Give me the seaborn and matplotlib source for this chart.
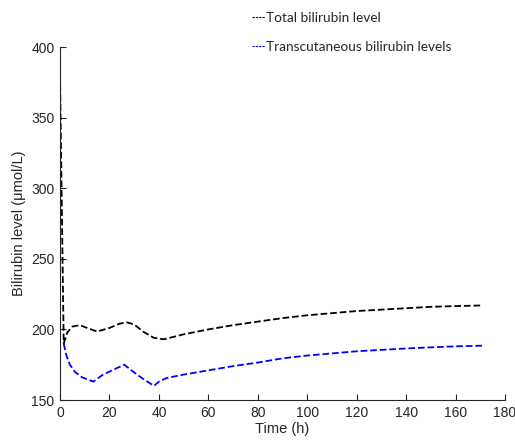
import numpy as np
import pandas as pd
import seaborn as sns
import matplotlib.pyplot as plt
from matplotlib.lines import Line2D

# total bilirubin (black) and transcutaneous (blue) readings over time
t_total = [0, 1.5, 3, 5, 8, 11, 15, 20, 24, 27, 30, 34, 38, 42, 50, 60, 70, 80,
           90, 100, 110, 120, 130, 140, 150, 160, 171]
total = [380, 190, 198, 202, 203, 201, 198.5, 201, 204, 205, 203.5, 198, 194, 193,
         196.5, 200, 203, 205.5, 208, 210, 211.5, 213, 214, 215, 216, 216.5, 217]

t_tcb = [1.5, 2.5, 4, 6, 9, 13.5, 17, 21, 26, 30, 34, 38, 40, 43, 50, 60, 70, 80,
         90, 100, 110, 120, 130, 140, 150, 160, 171]
tcb = [190, 182, 175, 170, 166, 163, 167.5, 171, 175, 169.5, 164.5, 160, 163, 165.5,
       168, 171, 174, 176.5, 179.5, 181.5, 183, 184.5, 185.5, 186.5, 187.3, 188, 188.5]

labels = ["Total bilirubin level", "Transcutaneous bilirubin levels"]

sns.set_style("white")
plt.rcParams['font.family'] = ['Liberation Sans', 'DejaVu Sans']

fig = plt.figure(figsize=(5.15, 4.41), dpi=100)
ax = fig.add_axes([60 / 515, 1 - 400 / 441, 445 / 515, 353 / 441])

sns.lineplot(x=t_total, y=total, ax=ax, color="black", linestyle="--", linewidth=1.3)
sns.lineplot(x=t_tcb, y=tcb, ax=ax, color="#0000ff", linestyle="--", linewidth=1.3)

ax.set_xlim(0, 180)
ax.set_ylim(150, 400)
ax.set_xticks(np.arange(0, 181, 20))
ax.set_yticks(np.arange(150, 401, 50))
ax.tick_params(direction="in", length=4, width=0.8, labelsize=10, colors="#262626",
               pad=4, left=True, bottom=True)
for s in ["top", "right"]:
    ax.spines[s].set_visible(False)
for s in ["left", "bottom"]:
    ax.spines[s].set_color("#262626")
    ax.spines[s].set_linewidth(0.8)
ax.set_xlabel("Time (h)", fontsize=10.5, color="#262626", labelpad=2)
ax.set_ylabel("Bilirubin level (μmol/L)", fontsize=10.5, color="#262626", labelpad=4)

handles = [Line2D([], [], color="black", linestyle=(0, (2, 1)), linewidth=0.8),
           Line2D([], [], color="#0000ff", linestyle=(0, (2, 1)), linewidth=0.8)]
fig.legend(handles, labels, loc="upper left", bbox_to_anchor=(252 / 515, 1 - 12 / 441),
           frameon=False, handlelength=0.95, handletextpad=0.1, labelspacing=1.25,
           borderpad=0, borderaxespad=0,
           prop={"family": ["Lato", "DejaVu Sans"], "size": 9.8})

fig.savefig("out.png", dpi=100)
